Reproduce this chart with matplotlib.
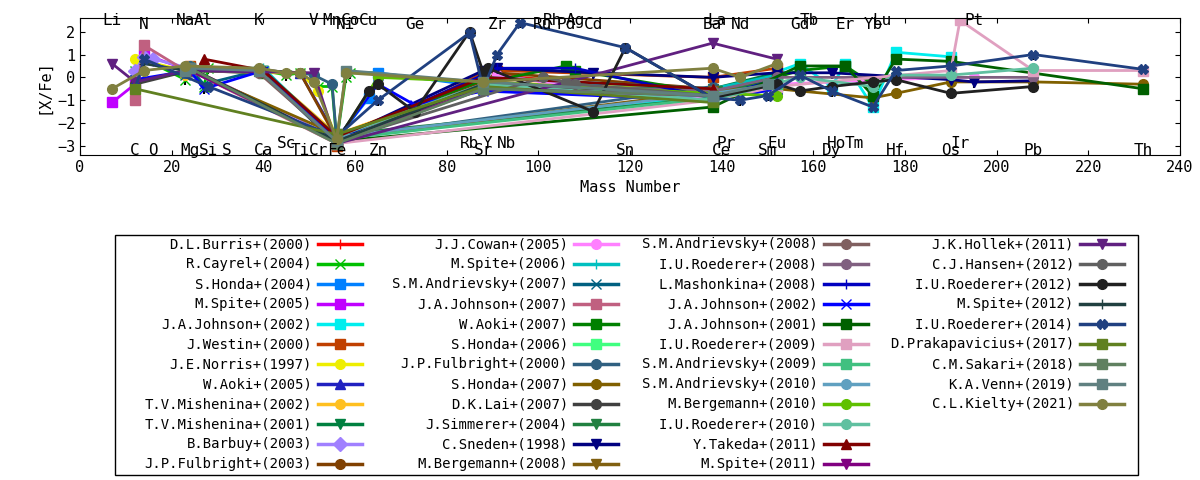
import matplotlib
matplotlib.use('Agg')
import matplotlib.pyplot as plt
from matplotlib.lines import Line2D

# mass numbers of the elements
mass = {'Li': 7, 'C': 12, 'N': 14, 'O': 16, 'Na': 23, 'Mg': 24, 'Al': 27, 'Si': 28, 'S': 32,
        'K': 39, 'Ca': 40, 'Sc': 45, 'Ti': 48, 'V': 51, 'Cr': 52, 'Mn': 55, 'Fe': 56, 'Ni': 58,
        'Co': 59, 'Cu': 63, 'Zn': 65, 'Ge': 73, 'Rb': 85, 'Sr': 88, 'Y': 89, 'Zr': 91, 'Nb': 93,
        'Mo': 96, 'Ru': 101, 'Rh': 103, 'Pd': 106, 'Ag': 108, 'Cd': 112, 'Sn': 119, 'Ba': 138,
        'La': 139, 'Ce': 140, 'Pr': 141, 'Nd': 144, 'Sm': 150, 'Eu': 152, 'Gd': 157, 'Tb': 159,
        'Dy': 164, 'Ho': 165, 'Er': 167, 'Tm': 169, 'Yb': 173, 'Lu': 175, 'Hf': 178, 'Os': 190,
        'Ir': 192, 'Pt': 195, 'Pb': 208, 'Th': 232}

# element label rows (0,1 top; 2,3 bottom)
label_rows = {
    0: ['Li', 'Na', 'Al', 'K', 'V', 'Mn', 'Co', 'Cu', 'Rh', 'Ag', 'La', 'Tb', 'Lu', 'Pt'],
    1: ['N', 'Ni', 'Ge', 'Zr', 'Ru', 'Pd', 'Cd', 'Ba', 'Nd', 'Gd', 'Er', 'Yb'],
    2: ['Sc', 'Rb', 'Y', 'Nb', 'Pr', 'Eu', 'Ho', 'Tm', 'Ir'],
    3: ['C', 'O', 'Mg', 'Si', 'S', 'Ca', 'Ti', 'Cr', 'Fe', 'Zn', 'Sr', 'Sn', 'Ce', 'Sm', 'Dy',
        'Hf', 'Os', 'Pb', 'Th'],
}
label_y = [2.5, 2.3, -2.9, -3.2]

studies = ['D.L.Burris+(2000)', 'R.Cayrel+(2004)', 'S.Honda+(2004)', 'M.Spite+(2005)',
           'J.A.Johnson+(2002)', 'J.Westin+(2000)', 'J.E.Norris+(1997)', 'W.Aoki+(2005)',
           'T.V.Mishenina+(2002)', 'T.V.Mishenina+(2001)', 'B.Barbuy+(2003)', 'J.P.Fulbright+(2003)',
           'J.J.Cowan+(2005)', 'M.Spite+(2006)', 'S.M.Andrievsky+(2007)', 'J.A.Johnson+(2007)',
           'W.Aoki+(2007)', 'S.Honda+(2006)', 'J.P.Fulbright+(2000)', 'S.Honda+(2007)',
           'D.K.Lai+(2007)', 'J.Simmerer+(2004)', 'C.Sneden+(1998)', 'M.Bergemann+(2008)',
           'S.M.Andrievsky+(2008)', 'I.U.Roederer+(2008)', 'L.Mashonkina+(2008)', 'J.A.Johnson+(2002)',
           'J.A.Johnson+(2001)', 'I.U.Roederer+(2009)', 'S.M.Andrievsky+(2009)', 'S.M.Andrievsky+(2010)',
           'M.Bergemann+(2010)', 'I.U.Roederer+(2010)', 'Y.Takeda+(2011)', 'M.Spite+(2011)',
           'J.K.Hollek+(2011)', 'C.J.Hansen+(2012)', 'I.U.Roederer+(2012)', 'M.Spite+(2012)',
           'I.U.Roederer+(2014)', 'D.Prakapavicius+(2017)', 'C.M.Sakari+(2018)', 'K.A.Venn+(2019)',
           'C.L.Kielty+(2021)']

colors = ['#ff0000', '#00c000', '#0080ff', '#c000ff', '#00eeee', '#c04000', '#eeee00', '#2020c0',
          '#ffc020', '#008040', '#a080ff', '#804000', '#ff80ff', '#00c0c0', '#006080', '#c06080',
          '#008000', '#40ff80', '#306080', '#806000', '#404040', '#208040', '#000080', '#806010',
          '#806060', '#806080', '#0000c0', '#0000ff', '#006000', '#e0a0c0', '#40c080', '#60a0c0',
          '#60c000', '#60c0a0', '#800000', '#800080', '#602080', '#606060', '#202020', '#204040',
          '#204080', '#608020', '#608060', '#608080', '#808040']

markers = ['+', 'x', 's', 's', 's', 's', 'o', '^', 'o', 'v', 'D', 'o', 'o', '+', 'x', 's',
           's', 's', 'o', 'o', 'o', 'v', 'v', 'v', 'o', 'o', '+', 'x', 's', 's', 's', 'o',
           'o', 'o', '^', 'v', 'v', 'o', 'o', '+', 'X', 's', 's', 's', 'o']

abund = [
    {'Na': 0.3, 'Mg': 0.4, 'Fe': -2.7, 'Sr': -0.3, 'Y': -0.3, 'Zr': 0.1, 'Ba': -0.8, 'La': -0.6, 'Eu': -0.2},
    {'C': 0.3, 'N': 0.8, 'Na': -0.1, 'Mg': 0.3, 'Al': -0.4, 'Si': 0.4, 'K': 0.3, 'Ca': 0.3,
     'Sc': 0.1, 'Ti': 0.2, 'Cr': -0.4, 'Mn': -0.4, 'Fe': -2.8, 'Co': 0.2, 'Ni': 0.0, 'Zn': 0.2},
    {'Mg': 0.3, 'Ca': 0.3, 'Fe': -2.7, 'Cu': -0.9, 'Zn': 0.2, 'Sr': -0.4, 'Y': -0.3, 'Zr': 0.0,
     'Ba': -0.6, 'Eu': -0.1},
    {'Li': -1.1, 'C': -0.3, 'N': 1.0, 'Mg': 0.3, 'Fe': -2.8},
    {'Fe': -2.7, 'Ba': -0.8, 'Gd': 0.6, 'Dy': -0.4, 'Er': 0.6, 'Yb': -1.3, 'Hf': 1.1, 'Os': 0.9},
    {'Mg': 0.5, 'Ca': 0.3, 'Fe': -3.0, 'Sr': 0.2, 'Zr': 0.3, 'Ba': 0.0, 'Eu': 0.4},
    {'C': 0.8, 'Na': 0.3, 'Mg': 0.5, 'Ca': 0.2, 'Ti': 0.2, 'Cr': -0.6, 'Fe': -2.7, 'Sr': -0.3, 'Ba': -0.5},
    {'Mg': 0.5, 'Ca': 0.3, 'Ti': 0.2, 'Fe': -2.6, 'Sr': -0.5, 'Ba': -1.0, 'Eu': -0.5},
    {'Na': 0.1, 'Mg': 0.5, 'Ca': 0.3, 'Fe': -2.5, 'Sr': -0.2, 'Ba': -0.6},
    {'Na': 0.2, 'Mg': 0.4, 'Ca': 0.3, 'Fe': -2.6, 'Sr': -0.4, 'Ba': -0.5, 'Eu': 0.2},
    {'C': 0.3, 'N': 0.9, 'O': 0.8, 'Mg': 0.4, 'Fe': -2.7},
    {'Na': 0.2, 'Mg': 0.4, 'Ca': 0.3, 'Ti': 0.2, 'Fe': -2.7, 'Sr': -0.2, 'Zr': 0.2, 'Ba': -0.5, 'Eu': 0.0},
    {'Fe': -2.7, 'Sr': -0.3, 'Zr': 0.1, 'Ru': -0.2, 'Ba': -0.9, 'Eu': -0.3, 'Os': 0.0, 'Pt': 0.0},
    {'Na': 0.4, 'Mg': 0.4, 'Ca': 0.4, 'Fe': -2.7, 'Sr': 0.0, 'Ba': -0.5, 'Eu': 0.1},
    {'Na': 0.1, 'Mg': 0.4, 'Al': -0.3, 'K': 0.3, 'Fe': -2.9, 'Sr': -0.3, 'Ba': -0.7},
    {'N': 1.4, 'C': -1.0, 'Na': 0.3, 'Mg': 0.3, 'Fe': -2.9, 'Sr': -0.4, 'Ba': -0.8},
    {'Mg': 0.3, 'Ca': 0.2, 'Fe': -2.6, 'Sr': -0.1, 'Y': -0.2, 'Pd': 0.5, 'Ag': 0.3, 'Ba': -0.7,
     'Eu': 0.0, 'Gd': 0.3, 'Er': 0.5, 'Yb': -0.3},
    {'Mg': 0.3, 'Ca': 0.3, 'Fe': -2.6, 'Sr': -0.3, 'Ba': -0.8, 'Eu': -0.4},
    {'Na': 0.2, 'Mg': 0.5, 'Ca': 0.3, 'Ti': 0.2, 'V': 0.1, 'Mn': -0.3, 'Fe': -2.7, 'Ba': -0.4},
    {'Mg': 0.3, 'Fe': -2.5, 'Sr': -0.4, 'Ba': -0.6, 'Eu': -0.5, 'Yb': -0.9, 'Hf': -0.7,
     'Os': -0.2, 'Pb': -0.2, 'Th': -0.3},
    {'C': -0.3, 'Mg': 0.3, 'Ca': 0.3, 'Fe': -2.6, 'Sr': -0.3, 'Ba': -0.7},
    {'Fe': -2.5, 'Ba': -0.9, 'La': -0.6, 'Eu': -0.2},
    {'Fe': -2.7, 'Sr': 0.3, 'Zr': 0.4, 'Cd': 0.2, 'Ba': 0.0, 'Eu': 0.2, 'Dy': 0.2, 'Os': -0.1,
     'Pt': -0.2, 'Pb': -0.15},
    {'Fe': -2.7, 'Ba': -0.6, 'Eu': -0.4},
    {'Mg': 0.3, 'K': 0.2, 'Fe': -2.8, 'Sr': -0.3, 'Ba': -0.6},
    {'Fe': -2.6, 'Sr': -0.3, 'Ba': -0.6, 'Eu': 0.0, 'Pb': 0.0},
    {'Mg': 0.3, 'Ca': 0.3, 'Fe': -2.7, 'Sr': 0.1, 'Zr': 0.4, 'Ag': 0.4, 'Ba': -0.9, 'Eu': -0.1},
    {'C': -0.1, 'Mg': 0.3, 'Al': -0.5, 'Ca': 0.3, 'Fe': -2.7, 'Zn': -0.3, 'Ge': -1.2, 'Sr': -0.6,
     'Ba': -1.0, 'Eu': -0.5},
    {'Fe': -2.8, 'Ba': -1.3, 'Gd': 0.5, 'Er': 0.5, 'Yb': -0.8, 'Hf': 0.8, 'Os': 0.7, 'Th': -0.5},
    {'Fe': -2.9, 'Ba': -1.0, 'Eu': -0.4, 'Os': 0.3, 'Ir': 2.5, 'Pb': 0.3, 'Th': 0.3},
    {'Fe': -2.7, 'Ba': -0.9, 'Eu': -0.3},
    {'Fe': -2.6, 'Ba': -0.7, 'Eu': -0.3},
    {'Fe': -2.8, 'Zn': 0.0, 'Sr': -0.2, 'Ba': -0.7, 'Eu': -0.8},
    {'Fe': -2.6, 'Sr': -0.3, 'Ba': -1.0, 'Gd': 0.0, 'Yb': -0.4, 'Hf': 0.1, 'Os': 0.1, 'Pb': 0.4},
    {'Al': 0.8, 'Ca': 0.3, 'Fe': -2.6, 'Sr': 0.0, 'Ba': -0.5},
    {'Na': 0.3, 'Mg': 0.3, 'Fe': -2.8, 'Sr': -0.5, 'Ba': -0.8},
    {'Li': 0.6, 'C': -0.2, 'Na': 0.3, 'V': 0.2, 'Fe': -2.9, 'Ba': 1.5, 'Eu': 0.8},
    {'Fe': -2.8, 'Ru': 0.0, 'Pd': -0.2, 'Ag': -0.3, 'Ba': -0.8},
    {'Mg': 0.4, 'Fe': -2.8, 'Cu': -0.6, 'Zn': -0.3, 'Ge': -1.5, 'Rb': 2.0, 'Sr': 0.2, 'Y': 0.4,
     'Cd': -1.5, 'Sn': 1.3, 'Ba': -0.9, 'Eu': -0.3, 'Gd': -0.6, 'Dy': -0.4, 'Yb': -0.2,
     'Hf': -0.1, 'Os': -0.7, 'Pb': -0.4},
    {'N': 0.6, 'Na': 0.3, 'Mg': 0.4, 'Fe': -2.8, 'Sr': -0.3},
    {'C': -0.5, 'N': 0.8, 'Si': -0.4, 'Fe': -2.6, 'Zn': -1.0, 'Rb': 1.95, 'Sr': -0.5, 'Zr': 1.0,
     'Mo': 2.4, 'Sn': 1.3, 'Ba': -0.9, 'Nd': -1.0, 'Sm': -0.8, 'Gd': 0.1, 'Dy': -0.6,
     'Yb': -1.3, 'Hf': 0.3, 'Os': 0.5, 'Pb': 1.0, 'Th': 0.35},
    {'C': -0.5, 'Fe': -2.5, 'Sr': -0.4, 'Ba': -1.1},
    {'Mg': 0.4, 'Fe': -2.9, 'Sr': -0.5, 'Ba': -0.8},
    {'Na': 0.3, 'Mg': 0.4, 'K': 0.3, 'Fe': -2.8, 'Ni': 0.3, 'Sr': -0.2, 'Ba': -0.8, 'Sm': -0.3},
    {'Li': -0.5, 'N': 0.3, 'Na': 0.5, 'K': 0.4, 'Sc': 0.2, 'Ti': 0.2, 'V': -0.2, 'Fe': -2.7,
     'Ni': 0.2, 'Sr': -0.2, 'Ba': 0.4, 'Nd': 0.0, 'Eu': 0.6},
]

fig = plt.figure(figsize=(12, 4.8), dpi=100)
ax = fig.add_axes([80 / 1200, 1 - 155 / 480, 1100 / 1200, 137 / 480])

for name, col, mk, ab in zip(studies, colors, markers, abund):
    els = sorted(ab, key=lambda e: mass[e])
    xs = [mass[e] for e in els]
    ys = [ab[e] for e in els]
    ax.errorbar(xs, ys, yerr=[[0.25] * len(ys), [0] * len(ys)], color=col, marker=mk,
                markersize=7, lw=2, ecolor='black', elinewidth=1.5, capsize=0, zorder=2)

for row, els in label_rows.items():
    for e in els:
        ax.text(mass[e], label_y[row], e, ha='center', va='center', fontsize=11.5,
                family='DejaVu Sans Mono', zorder=5)

ax.set_xlim(0, 240)
ax.set_ylim(-3.4, 2.6)
ax.set_xticks(range(0, 241, 20))
ax.set_yticks(range(-3, 3))
ax.tick_params(direction='in', top=True, right=True, labelsize=11)
for lab in ax.get_xticklabels() + ax.get_yticklabels():
    lab.set_family('DejaVu Sans Mono')
ax.set_xlabel('Mass Number', family='DejaVu Sans Mono', fontsize=11)
ax.set_ylabel('[X/Fe]', family='DejaVu Sans Mono', fontsize=11)

# legend drawn by hand: text right-aligned, sample to the right
fig.patches.append(plt.Rectangle((115 / 1200, 1 - 475 / 480), 1023 / 1200, 240 / 480,
                                 transform=fig.transFigure, fill=False, lw=1, color='black'))
text_right = [312, 568, 818, 1074]
for i, (name, col, mk) in enumerate(zip(studies, colors, markers)):
    c, r = divmod(i, 12)
    y = 1 - (244 + 20 * r) / 480
    x = text_right[c]
    fig.text(x / 1200, y, name, ha='right', va='center', fontsize=10, family='DejaVu Sans Mono')
    fig.add_artist(Line2D([(x + 6) / 1200, (x + 50) / 1200], [y, y], color=col, lw=2.5,
                          transform=fig.transFigure))
    fig.add_artist(Line2D([(x + 28) / 1200], [y], color=col, marker=mk, markersize=7,
                          transform=fig.transFigure))

fig.savefig('out.png')
